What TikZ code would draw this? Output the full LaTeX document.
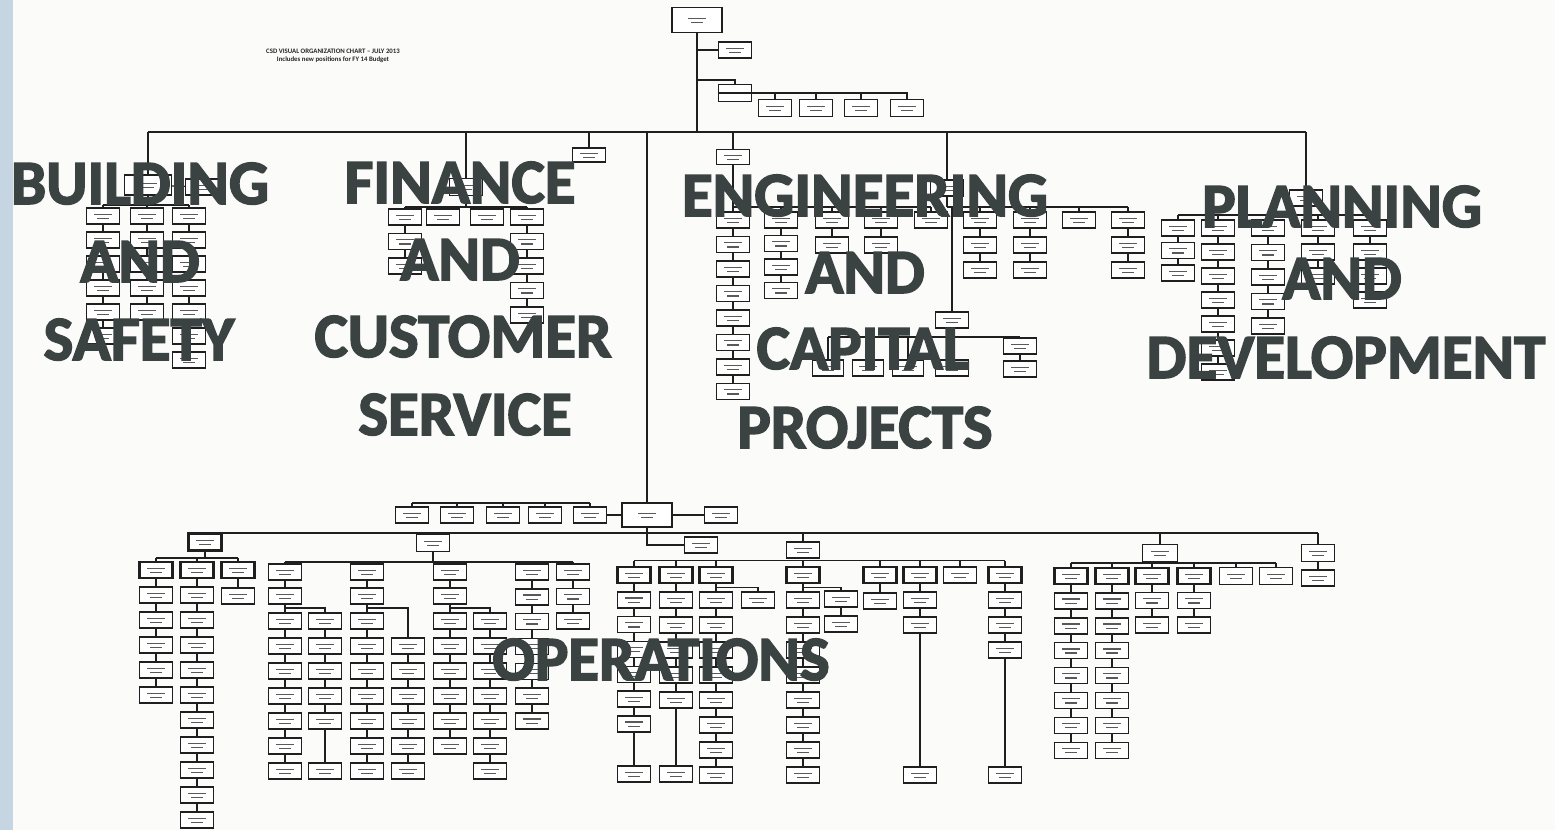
\documentclass[tikz,border=0pt]{standalone}
\usepackage{fontspec}
\setmainfont{Carlito}
\newfontfamily\ovfont{Carlito}[BoldFeatures={FakeBold=2.5}]
\definecolor{ovl}{RGB}{58,66,66}
\definecolor{strip}{RGB}{198,213,226}
\definecolor{paper}{RGB}{251,251,249}
\tikzset{
  ln/.style={line width=1.2pt, draw=black!88},
  bx/.style={draw=black!88, line width=1.4pt, fill=white, minimum width=33pt, minimum height=16pt, inner sep=0pt,
    path picture={\draw[black!65, line width=1.3pt] ([shift={(-9pt,1.8pt)}]path picture bounding box.center) -- ++(18pt,0pt);
                  \draw[black!65, line width=1.3pt] ([shift={(-6pt,-2.4pt)}]path picture bounding box.center) -- ++(12pt,0pt);}},
  bxt/.style={bx, line width=2.3pt},
  bxp/.style={draw=black!88, line width=1.4pt, fill=white, minimum width=33pt, minimum height=17pt, inner sep=0pt},
  big/.style={font={\ovfont\bfseries\fontsize{63}{63}\selectfont}, text=ovl, inner sep=0pt, anchor=base},
}
\newcommand{\orgchain}[6][bx]{%
  \node[#1] (#2-1) at (#3,#4) {};%
  \ifnum#5>1\relax
    \foreach \k [remember=\k as \km (initially 1)] in {2,...,#5}{%
      \node[bx] (#2-\k) at (#3,{#4+(\k-1)*(#6)}) {};%
      \draw[ln] (#2-\km) -- (#2-\k);}%
  \fi}
\begin{document}
\begin{tikzpicture}[x=1pt,y=-1pt]
\useasboundingbox (0,0) rectangle (1555,830);
\fill[paper] (0,0) rectangle (1555,830);
\fill[strip] (0,0) rectangle (13,830);

% title
\node[font={\bfseries\fontsize{6.8}{7.8}\selectfont}, align=center, text=black!85, inner sep=0pt] (title) at (333,56)
  {CSD VISUAL ORGANIZATION CHART -- JULY 2013\\Includes new positions for FY 14 Budget};

% ---------- top ----------
\node[bx, minimum width=50pt, minimum height=25pt] (ceo) at (697,20) {};
\coordinate (tj) at (697,132);
\draw[ln, line width=2.4pt] (ceo) -- (tj);
\node[bx] (a1) at (735,50) {};
\coordinate (t1) at (697,50);
\draw[ln] (t1) -- (a1);
\node[bxp] (a2) at (735,93) {};
\draw[ln] (a2.west) -- (a2.east);
\coordinate (t2) at (697,80);
\draw[ln] (t2) -| (a2.north);
\node[bx, minimum height=17pt] (b1) at (775,108) {};
\node[bx, minimum height=17pt] (b2) at (816,108) {};
\node[bx, minimum height=17pt] (b3) at (861,108) {};
\node[bx, minimum height=17pt] (b4) at (907,108) {};
\draw[ln] (a2.east) -| (b4.north);
\foreach \b in {b1,b2,b3}{\draw[ln] (\b.north) -- (\b.north |- a2.east);}

\coordinate (mL) at (148,132);
\coordinate (mR) at (1306,132);
\draw[ln, line width=1.8pt] (mL) -- (mR);

% ---------- building ----------
\node[bx, minimum width=47pt, minimum height=20pt] (bs0) at (148,185) {};
\draw[ln] (mL) -- (bs0);
\node[bx] (bs1) at (202,187) {};
\draw[ln] (bs0) -- (bs1);
\coordinate (bsb) at (0,205);
\orgchain{bA}{103}{216}{6}{24}
\orgchain{bB}{147}{216}{5}{24}
\orgchain{bC}{189}{216}{7}{24}
\draw[ln] (bs0.south) -- (bs0.south |- bsb);
\draw[ln] (bA-1.north |- bsb) -- (bC-1.north |- bsb);
\foreach \c in {bA,bB,bC}{\draw[ln] (\c-1.north) -- (\c-1.north |- bsb);}

% ---------- finance ----------
\coordinate (fd) at (466,132);
\node[bx, minimum height=17pt] (f0) at (466,187) {};
\draw[ln] (fd) -- (f0);
\coordinate (fb) at (0,207);
\orgchain{fA}{405}{217}{3}{24.5}
\node[bx] (fB) at (443,217) {};
\node[bx] (fC) at (487,217) {};
\orgchain{fD}{527}{217}{5}{24.5}
\draw[ln] (f0.south) -- (f0.south |- fb);
\draw[ln] (fA-1.north |- fb) -- (fD-1.north |- fb);
\foreach \c in {fA-1,fB,fC,fD-1}{\draw[ln] (\c.north) -- (\c.north |- fb);}
\coordinate (fsd) at (589,132);
\node[bx, minimum height=14pt] (fs) at (589,155) {};
\draw[ln] (fsd) -- (fs);

% ---------- engineering ----------
\coordinate (ed) at (733,132);
\node[bx, minimum height=15pt] (e0) at (733,157) {};
\draw[ln] (ed) -- (e0);
\coordinate (eb) at (0,207);
\orgchain{eA}{733}{220}{8}{24.5}
\orgchain{eB}{781}{220}{4}{23.5}
\orgchain{eC}{832}{220}{2}{25}
\orgchain{eD}{881}{220}{2}{25}
\node[bx] (eE) at (931,220) {};
\draw[ln] (e0.south) -- (e0.south |- eb);
\draw[ln] (eA-1.north |- eb) -- (eE.north |- eb);
\foreach \c in {eA-1,eB-1,eC-1,eD-1,eE}{\draw[ln] (\c.north) -- (\c.north |- eb);}

\coordinate (ed2) at (947,132);
\node[bx] (e5) at (947,188) {};
\draw[ln] (ed2) -- (e5);
\orgchain{eF}{980}{220}{3}{25}
\orgchain{eG}{1030}{220}{3}{25}
\node[bx] (eH) at (1079,220) {};
\orgchain{eI}{1128}{220}{3}{25}
\draw[ln] (e5.south) -- (e5.south |- eb);
\draw[ln] (e5.south |- eb) -- (eI-1.north |- eb);
\foreach \c in {eF-1,eG-1,eH,eI-1}{\draw[ln] (\c.north) -- (\c.north |- eb);}

\coordinate (ecj) at (952,207);
\node[bx] (ec) at (952,320) {};
\draw[ln] (ecj) -- (ec);
\coordinate (ecb) at (0,337);
\node[bx, minimum width=31pt] (ec1) at (828,368) {};
\node[bx, minimum width=31pt] (ec2) at (868,368) {};
\node[bx, minimum width=31pt] (ec3) at (908,368) {};
\node[bx] (ec4) at (952,368) {};
\orgchain{ec5}{1020}{346}{2}{23}
\draw[ln] (ec.south) -- (ec.south |- ecb);
\draw[ln] (ec1.north |- ecb) -- (ec5-1.north |- ecb);
\foreach \c in {ec1,ec2,ec3,ec4,ec5-1}{\draw[ln] (\c.north) -- (\c.north |- ecb);}

% ---------- planning ----------
\coordinate (pd) at (1306,132);
\node[bx] (p0) at (1306,198) {};
\draw[ln] (pd) -- (p0);
\coordinate (pb) at (0,215);
\orgchain{pA}{1178}{228}{3}{22.5}
\orgchain{pB}{1218}{228}{7}{24}
\orgchain{pC}{1268}{228}{5}{24.5}
\orgchain{pD}{1318}{228}{3}{24}
\orgchain{pE}{1370}{228}{4}{24}
\draw[ln] (p0.south) -- (p0.south |- pb);
\draw[ln] (pA-1.north |- pb) -- (pE-1.north |- pb);
\foreach \c in {pA-1,pB-1,pC-1,pD-1,pE-1}{\draw[ln] (\c.north) -- (\c.north |- pb);}

% ---------- operations ----------
\coordinate (od) at (647,132);
\node[bx, minimum width=50pt, minimum height=24pt] (om) at (647,515) {};
\draw[ln, line width=1.5pt] (od) -- (om);
\node[bx] (o1) at (412,515) {};
\node[bx] (o2) at (457,515) {};
\node[bx] (o3) at (503,515) {};
\node[bx] (o4) at (545,515) {};
\node[bx] (o5) at (590,515) {};
\draw[ln] (om.west) -- (o5.east);
\coordinate (ot) at (0,503);
\draw[ln] (o1.north |- ot) -- (o5.north |- ot);
\foreach \c in {o1,o2,o3,o4,o5}{\draw[ln] (\c.north) -- (\c.north |- ot);}
\node[bx] (or) at (721,515) {};
\draw[ln] (om.east) -- (or.west);
\node[bx] (oq) at (701,545) {};
\draw[ln] (om.south) |- (oq.west);
\coordinate (ob) at (0,533);

% group A
\node[bxt, minimum height=17pt] (A0) at (205,542) {};
\coordinate (Ab) at (0,558);
\orgchain[bxt]{AA}{156}{570}{6}{25}
\orgchain[bxt]{AB}{197}{570}{11}{25}
\orgchain[bxt]{AC}{238}{570}{2}{26}
\draw[ln] (A0.south) -- (A0.south |- Ab);
\draw[ln] (AA-1.north |- Ab) -- (AC-1.north |- Ab);
\foreach \c in {AA-1,AB-1,AC-1}{\draw[ln] (\c.north) -- (\c.north |- Ab);}

% group B
\node[bx, minimum height=17pt] (B0) at (433,543) {};
\coordinate (Bb) at (0,562);
\orgchain{BA}{285}{572}{2}{24}
\orgchain{BB}{367}{572}{2}{24}
\orgchain{BC}{450}{572}{2}{24}
\orgchain{BD}{532}{572}{7}{24.8}
\orgchain{BE}{573}{572}{3}{24.5}
\draw[ln] (B0.south) -- (B0.south |- Bb);
\draw[ln] (BA-1.north |- Bb) -- (BE-1.north |- Bb);
\foreach \c in {BA-1,BB-1,BC-1,BD-1,BE-1}{\draw[ln] (\c.north) -- (\c.north |- Bb);}
\coordinate (Bs) at (0,608);
\orgchain{BAx}{285}{621}{7}{25}
\orgchain{BAy}{325}{621}{5}{25}
\node[bx] (BAz) at (325,771) {};
\draw[ln] (BAy-5) -- (BAz);
\orgchain{BBx}{367}{621}{7}{25}
\orgchain{BBy}{408}{646}{6}{25}
\orgchain{BCx}{450}{621}{6}{25}
\orgchain{BCy}{490}{621}{7}{25}
\draw[ln] (BA-2.south) -- (BA-2.south |- Bs) -- (BAy-1.north |- Bs) -- (BAy-1.north);
\draw[ln] (BA-2.south |- Bs) -- (BAx-1.north);
\draw[ln] (BB-2.south) -- (BB-2.south |- Bs) -- (BBy-1.north |- Bs) -- (BBy-1.north);
\draw[ln] (BB-2.south |- Bs) -- (BBx-1.north);
\draw[ln] (BC-2.south) -- (BC-2.south |- Bs) -- (BCy-1.north |- Bs) -- (BCy-1.north);
\draw[ln] (BC-2.south |- Bs) -- (BCx-1.north);

% group C
\node[bx] (C0) at (803,550) {};
\coordinate (Cb) at (0,560.5);
\orgchain[bxt]{CA}{634}{575}{7}{24.8}
\node[bx] (CAz) at (634,774) {};
\draw[ln] (CA-7) -- (CAz);
\orgchain[bxt]{CB}{676}{575}{6}{25}
\node[bx] (CBz) at (676,774) {};
\draw[ln] (CB-6) -- (CBz);
\orgchain[bxt]{CC}{716}{575}{9}{25}
\orgchain[bxt]{CD}{803}{575}{9}{25}
\orgchain[bxt]{CE}{880}{575}{2}{26}
\orgchain[bxt]{CF}{920}{575}{3}{25}
\node[bx] (CFz) at (920,775) {};
\draw[ln] (CF-3) -- (CFz);
\node[bx] (CG) at (960,575) {};
\orgchain[bxt]{CH}{1005}{575}{4}{25}
\node[bx] (CHz) at (1005,775) {};
\draw[ln] (CH-4) -- (CHz);
\draw[ln] (CA-1.north |- Cb) -- (CH-1.north |- Cb);
\foreach \c in {CA-1,CB-1,CC-1,CD-1,CE-1,CF-1,CG,CH-1}{\draw[ln] (\c.north) -- (\c.north |- Cb);}
\node[bx] (CCs) at (758,600) {};
\coordinate (CCj) at (716,587.5);
\draw[ln] (CCj) -| (CCs.north);
\node[bx] (CDs1) at (841,599) {};
\node[bx] (CDs2) at (841,624) {};
\coordinate (CDj) at (803,587.5);
\draw[ln] (CDj) -| (CDs1.north);
\draw[ln] (CDs1) -- (CDs2);

% group D
\node[bx, minimum width=35pt, minimum height=17pt] (D0) at (1160,553) {};
\coordinate (Db) at (0,563);
\orgchain[bxt]{DA}{1071}{576}{8}{24.9}
\orgchain[bxt]{DB}{1112}{576}{8}{24.9}
\orgchain[bxt]{DC}{1152}{576}{3}{24.5}
\orgchain[bxt]{DD}{1194}{576}{3}{24.5}
\node[bx, minimum height=17pt] (DE) at (1236,576) {};
\node[bx, minimum height=17pt] (DF) at (1276,576) {};
\draw[ln] (D0.south) -- (D0.south |- Db);
\draw[ln] (DA-1.north |- Db) -- (DF.north |- Db);
\foreach \c in {DA-1,DB-1,DC-1,DD-1,DE,DF}{\draw[ln] (\c.north) -- (\c.north |- Db);}

% group E
\node[bx, minimum height=17pt] (E0) at (1318,553) {};
\node[bx] (E1) at (1318,578) {};
\draw[ln] (E0) -- (E1);

% operations bus
\draw[ln] (A0.north |- ob) -- (E0.north |- ob);
\foreach \c in {A0,B0,C0,D0,E0}{\draw[ln] (\c.north) -- (\c.north |- ob);}

% ---------- overlay labels ----------
\node[big] (l1) at (140,204) {BUILDING};
\node[big] (l2) at (140,282) {AND};
\node[big] (l3) at (139,360) {SAFETY};
\node[big] (l4) at (460,203) {FINANCE};
\node[big] (l5) at (460,280) {AND};
\node[big] (l6) at (463,357) {CUSTOMER};
\node[big] (l7) at (465,435) {SERVICE};
\node[big] (l8) at (865,216) {ENGINEERING};
\node[big] (l9) at (865,293) {AND};
\node[big] (l10) at (863,369) {CAPITAL};
\node[big] (l11) at (865,448) {PROJECTS};
\node[big] (l12) at (1342,227) {PLANNING};
\node[big] (l13) at (1342,299) {AND};
\node[big] (l14) at (1346,378) {DEVELOPMENT};
\node[big] (l15) at (661,680) {OPERATIONS};
\end{tikzpicture}
\end{document}
